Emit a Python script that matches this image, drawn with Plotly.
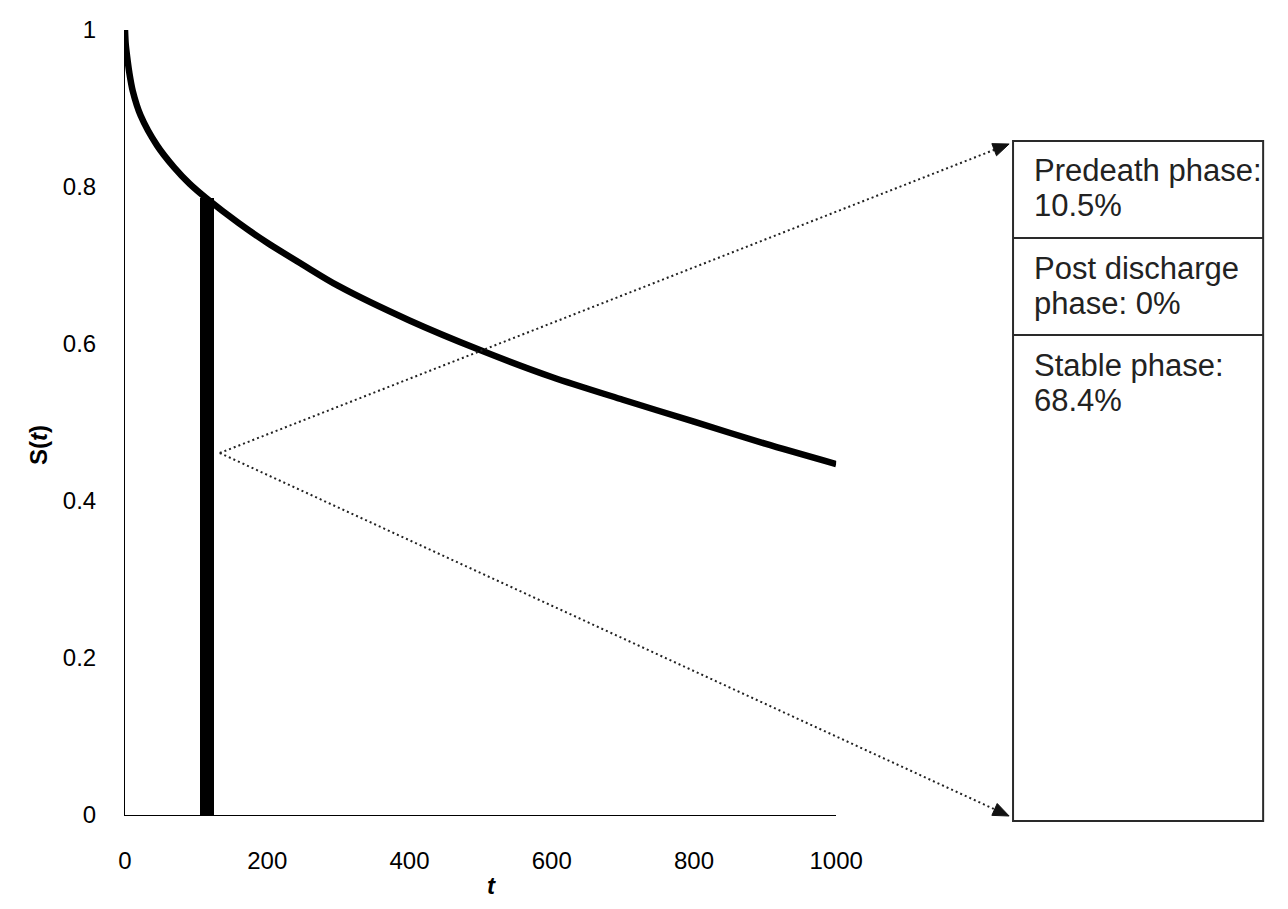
import numpy as np
import plotly.graph_objects as go

# ---- data ----
t_vals = [0, 1, 3, 6, 11, 22, 45, 69, 91, 114, 160, 200, 250, 300, 400, 500, 600, 700, 800, 900, 1000]
s_vals = [1.0, 0.982, 0.966, 0.946, 0.922, 0.891, 0.853, 0.825, 0.804, 0.786, 0.754, 0.729, 0.701,
          0.674, 0.630, 0.592, 0.558, 0.529, 0.501, 0.473, 0.447]
bar_t = [115]
bar_s = [0.786]
x_ticks = [0, 200, 400, 600, 800, 1000]
y_ticks = [0, 0.2, 0.4, 0.6, 0.8, 1]
y_tick_text = ["0", "0.2", "0.4", "0.6", "0.8", "1"]
box_lines = [["Predeath phase:", "10.5%"], ["Post discharge", "phase: 0%"], ["Stable phase:", "68.4%"]]

W, H = 1288, 909
ML, MR, MT, MB = 117, 0, 22, 102
PW, PH = W - ML - MR, H - MT - MB
X_RIGHT = 845


def xp(px):
    return (px - ML) / PW


def yp(py):
    return (H - MB - py) / PH


FONT = "Liberation Sans, Arial, Helvetica, sans-serif"

fig = go.Figure()
fig.add_trace(go.Bar(x=bar_t, y=bar_s, width=19, marker=dict(color="black", line=dict(width=0)),
                     showlegend=False, hoverinfo="skip"))
fig.add_trace(go.Scatter(x=t_vals, y=s_vals, mode="lines",
                         line=dict(color="black", width=6.5, shape="spline", smoothing=0.8),
                         showlegend=False))

shapes = []
annotations = []

# callout box
box_left, box_right, box_top, box_bottom = 1026, 1282, 133, 813
dividers = [230, 327]
shapes.append(dict(type="rect", xref="paper", yref="paper", x0=xp(box_left), x1=xp(box_right),
                   y0=yp(box_bottom), y1=yp(box_top), line=dict(color="#2a2a2a", width=2)))
for d in dividers:
    shapes.append(dict(type="line", xref="paper", yref="paper", x0=xp(box_left), x1=xp(box_right),
                       y0=yp(d), y1=yp(d), line=dict(color="#2a2a2a", width=2)))

section_tops = [box_top] + dividers
for top, lines in zip(section_tops, box_lines):
    for i, txt in enumerate(lines):
        baseline = top + 40 + 35 * i
        annotations.append(dict(text=txt, xref="paper", yref="paper", x=xp(1045), y=yp(baseline - 10),
                                xanchor="left", yanchor="middle", showarrow=False,
                                font=dict(family=FONT, size=31, color="#222")))

# dotted callout lines with arrowheads
start = np.array([214.0, 445.0])
tips = [np.array([1022.0, 136.0]), np.array([1022.0, 808.0])]
L, HW = 16.0, 6.5
for tip in tips:
    d = tip - start
    u = d / np.linalg.norm(d)
    base = tip - u * (L - 1)
    shapes.append(dict(type="line", xref="paper", yref="paper", x0=xp(start[0]), y0=yp(start[1]),
                       x1=xp(base[0]), y1=yp(base[1]), line=dict(color="#222", width=2, dash="2px,3px")))
    uu = np.array([u[0], -u[1]])  # pixel offsets, y up
    nn = np.array([-uu[1], uu[0]])
    b = -uu * L
    p1 = b + nn * HW
    p2 = b - nn * HW
    path = f"M 0,0 L {p1[0]:.2f},{p1[1]:.2f} L {p2[0]:.2f},{p2[1]:.2f} Z"
    shapes.append(dict(type="path", xref="paper", yref="paper", xsizemode="pixel", ysizemode="pixel",
                       xanchor=xp(tip[0]), yanchor=yp(tip[1]), path=path,
                       fillcolor="#111", line=dict(color="#111", width=1)))

# axis titles
annotations.append(dict(text="<b><i>t</i></b>", xref="paper", yref="paper", x=xp(492), y=yp(877),
                        showarrow=False, xanchor="center", yanchor="middle",
                        font=dict(family=FONT, size=24, color="black")))
annotations.append(dict(text="<b>S(<i>t</i>)</b>", xref="paper", yref="paper", x=xp(28), y=yp(437),
                        showarrow=False, xanchor="center", yanchor="middle", textangle=-90,
                        font=dict(family=FONT, size=24, color="black")))

fig.update_layout(
    width=W, height=H,
    margin=dict(l=ML, r=MR, t=MT, b=MB, pad=0),
    paper_bgcolor="white", plot_bgcolor="white",
    shapes=shapes, annotations=annotations,
    bargap=0,
    xaxis=dict(domain=[0, xp(X_RIGHT)], range=[0, 1000], tickvals=x_ticks, ticktext=[str(v) for v in x_ticks],
               showgrid=False, zeroline=False, showline=True, linecolor="black", linewidth=1,
               ticks="", ticklabelstandoff=24, tickfont=dict(family=FONT, size=24, color="black")),
    yaxis=dict(range=[0, 1], tickvals=y_ticks, ticktext=y_tick_text,
               showgrid=False, zeroline=False, showline=True, linecolor="black", linewidth=1,
               ticks="", ticklabelstandoff=23, tickfont=dict(family=FONT, size=24, color="black")),
)

fig.write_html("out.html")
